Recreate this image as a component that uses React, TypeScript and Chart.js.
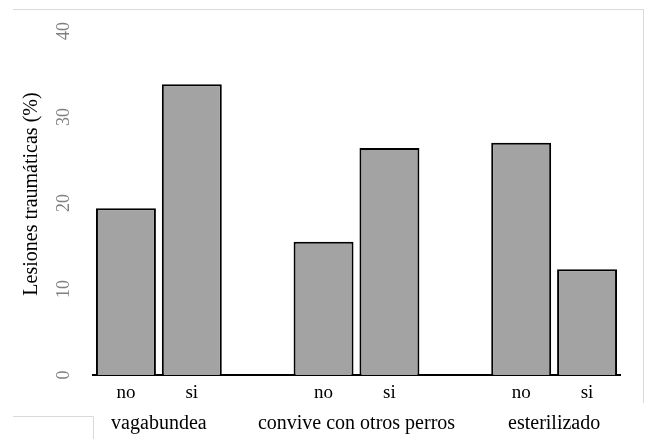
import React, { useEffect, useRef } from 'react';
import { Chart, registerables } from 'chart.js';

Chart.register(...registerables);

const categories = ['no', 'si', '', 'no', 'si', '', 'no', 'si'];
const values = [19.4, 33.8, null, 15.5, 26.4, null, 27.0, 12.3];
const groupLabels = ['vagabundea', 'convive con otros perros', 'esterilizado'];
const groupStarts = [0, 3, 6];
const yTicks = [0, 10, 20, 30, 40];
const yTitle = 'Lesiones traumáticas (%)';

const FONT = '"Liberation Serif", "Times New Roman", serif';

export default function App() {
  const ref = useRef<HTMLCanvasElement | null>(null);

  useEffect(() => {
    if (!ref.current) return;
    const deco = {
      id: 'deco',
      afterDraw(chart: any) {
        const ctx = chart.ctx;
        const ys = chart.scales.y;
        const xs = chart.scales.x;
        const area = chart.chartArea;
        ctx.save();
        // frame artefacts
        ctx.strokeStyle = '#d9d9d9';
        ctx.lineWidth = 1;
        ctx.beginPath();
        ctx.moveTo(13, 9.5);
        ctx.lineTo(643.5, 9.5);
        ctx.lineTo(643.5, 403);
        ctx.moveTo(13, 416.5);
        ctx.lineTo(93.5, 416.5);
        ctx.lineTo(93.5, 439);
        ctx.stroke();
        // y tick labels
        ctx.fillStyle = '#7f7f7f';
        ctx.font = `18px ${FONT}`;
        ctx.textAlign = 'center';
        ctx.textBaseline = 'middle';
        yTicks.forEach((v) => {
          const y = ys.getPixelForValue(v);
          ctx.save();
          ctx.translate(64, y);
          ctx.rotate(-Math.PI / 2);
          ctx.fillText(String(v), 0, 0);
          ctx.restore();
        });
        // y title
        ctx.fillStyle = '#000';
        ctx.font = `20px ${FONT}`;
        ctx.save();
        ctx.translate(32, (area.top + area.bottom) / 2 - 9);
        ctx.rotate(-Math.PI / 2);
        ctx.fillText(yTitle, 0, 0);
        ctx.restore();
        // group labels
        ctx.textBaseline = 'middle';
        groupLabels.forEach((g, i) => {
          const a = xs.getPixelForValue(groupStarts[i]);
          const b = xs.getPixelForValue(groupStarts[i] + 1);
          ctx.fillText(g, (a + b) / 2, 424);
        });
        ctx.restore();
      },
    };

    const chart = new Chart(ref.current, {
      type: 'bar',
      data: {
        labels: categories,
        datasets: [
          {
            data: values as any,
            backgroundColor: '#a3a3a3',
            borderColor: '#000',
            borderWidth: 2,
            barPercentage: 0.91,
            categoryPercentage: 1,
          },
        ],
      },
      options: {
        responsive: false,
        animation: false,
        layout: { padding: { top: 31, right: 25, left: 0, bottom: 0 } },
        plugins: { legend: { display: false }, tooltip: { enabled: false }, title: { display: false } },
        scales: {
          x: {
            grid: { display: false, drawTicks: false },
            border: { display: true, color: '#000', width: 2 },
            ticks: { color: '#000', font: { family: FONT, size: 19 }, padding: 7 },
            afterFit(s: any) {
              s.height = 64;
            },
          },
          y: {
            min: 0,
            max: 40,
            ticks: { display: false, stepSize: 10 },
            grid: { display: false, drawTicks: false },
            border: { display: false },
            afterFit(s: any) {
              s.width = 93;
            },
          },
        },
      },
      plugins: [deco],
    });
    return () => chart.destroy();
  }, []);

  return (
    <div style={{ position: 'absolute', left: 0, top: 0, width: 645, height: 439, background: '#fff' }}>
      <canvas ref={ref} width={645} height={439} />
    </div>
  );
}
